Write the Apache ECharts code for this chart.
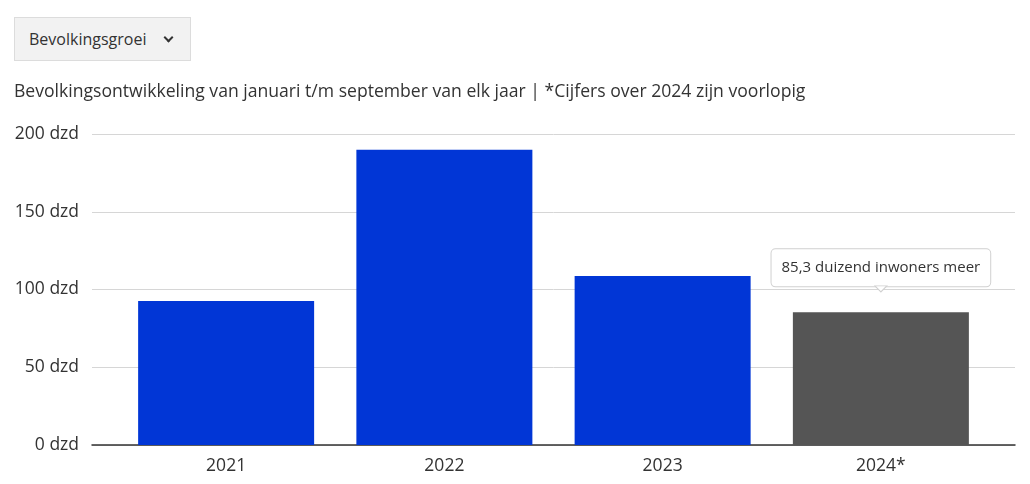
<!DOCTYPE html>
<html>
<head>
<meta charset="utf-8">
<script src="https://cdn.jsdelivr.net/npm/echarts@6/dist/echarts.min.js"></script>
<style>
  html, body { margin: 0; padding: 0; background: #fff; }
  body { width: 1030px; height: 484px; position: relative; overflow: hidden; font-family: "Open Sans", sans-serif; }
  #chart { position: absolute; left: 0; top: 0; width: 1030px; height: 484px; }
  #btn { position: absolute; left: 14px; top: 17px; width: 175px; height: 42px; background: #f2f2f2; border: 1px solid #dcdcdc;
         box-sizing: content-box; font-size: 16px; color: #333; line-height: 42px; z-index: 2; }
  #btn span.t { position: absolute; left: 14px; }
  #btn span.c { position: absolute; left: 150px; top: 16px; width: 5px; height: 5px; border-right: 2px solid #333; border-bottom: 2px solid #333; transform: rotate(45deg); }
</style>
</head>
<body>
<div id="btn"><span class="t">Bevolkingsgroei</span><span class="c"></span></div>
<div id="chart"></div>
<script>
const subtitle = 'Bevolkingsontwikkeling van januari t/m september van elk jaar | *Cijfers over 2024 zijn voorlopig';
const categories = ['2021', '2022', '2023', '2024*'];
const values = [92.6, 189.8, 108.7, 85.3];
const barColors = ['#0136d6', '#0136d6', '#0136d6', '#555555'];
const tooltipText = '85,3 duizend inwoners meer';
const yTicks = [0, 50, 100, 150, 200];

const chart = echarts.init(document.getElementById('chart'), null, { renderer: 'canvas' });
const font = '"Open Sans", sans-serif';
const option = {
  animation: false,
  title: {
    text: subtitle, left: 9, top: 78,
    textStyle: { fontFamily: font, fontSize: 17.6, fontWeight: 'normal', color: '#333' }
  },
  grid: [
    { left: 92, right: 15, top: 134, bottom: 39 },
    { left: 117, right: 40, top: 134, bottom: 39 }
  ],
  xAxis: [
    { type: 'value', gridIndex: 0, min: 0, max: 1, axisLine: { show: true, onZero: false, lineStyle: { color: '#333', width: 1.5 } },
      axisTick: { show: false }, axisLabel: { show: false }, splitLine: { show: false } },
    { type: 'category', gridIndex: 1, data: categories, axisLine: { show: false }, axisTick: { show: false },
      axisLabel: { color: '#333', fontSize: 17.5, fontFamily: font, margin: 12 } }
  ],
  yAxis: [
    { type: 'value', gridIndex: 0, min: yTicks[0], max: yTicks[yTicks.length - 1], interval: 50,
      axisLabel: { color: '#333', fontSize: 17.5, fontFamily: font, margin: 13, formatter: v => v + ' dzd' },
      axisLine: { show: false }, axisTick: { show: false },
      splitLine: { lineStyle: { color: '#d6d6d6', width: 1 } } },
    { type: 'value', gridIndex: 1, min: 0, max: 200, interval: 50, show: false, splitLine: { show: false } }
  ],
  series: [{
    type: 'bar', xAxisIndex: 1, yAxisIndex: 1, barWidth: 176,
    data: values.map((v, i) => {
      const item = { value: v, itemStyle: { color: barColors[i] } };
      if (i === 3) {
        item.label = {
          show: true, position: 'top', distance: 26, formatter: tooltipText,
          color: '#333', fontSize: 15, fontFamily: font,
          backgroundColor: '#fff', borderColor: '#d0d0d0', borderWidth: 1, borderRadius: 4,
          padding: [11, 10, 11, 10]
        };
      }
      return item;
    }),
    markPoint: {
      silent: true,
      data: [{ coord: [categories[3], values[3]], symbol: 'triangle', symbolRotate: 180, symbolSize: [12, 6], symbolOffset: [0, -23.5],
        itemStyle: { color: '#fff', borderColor: '#d0d0d0', borderWidth: 1 }, label: { show: false } }]
    }
  }]
};
chart.setOption(option);
</script>
</body>
</html>
